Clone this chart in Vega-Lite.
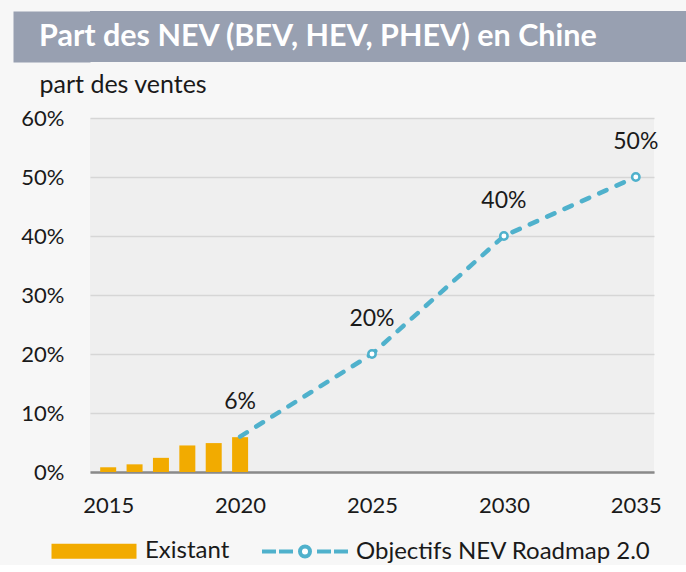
{
  "$schema": "https://vega.github.io/schema/vega-lite/v6.json",
  "background": "#f7f7f7",
  "padding": {"left": 13, "top": 11, "right": 0, "bottom": 0},
  "spacing": 10,
  "config": {
    "font": "Lato",
    "view": {"stroke": null},
    "axis": {
      "labelFont": "Lato",
      "labelFontSize": 22,
      "labelColor": "#1a1a1a",
      "titleFont": "Lato",
      "titleFontSize": 25,
      "titleFontWeight": "normal",
      "titleColor": "#1a1a1a"
    },
    "legend": {
      "labelFont": "Lato",
      "labelFontSize": 24,
      "labelColor": "#1a1a1a",
      "labelLimit": 400
    }
  },
  "vconcat": [
    {
      "width": 596,
      "height": 51,
      "view": {"fill": "#98a0b1", "stroke": null},
      "data": {"values": [{"t": "Part des NEV (BEV, HEV, PHEV) en Chine"}]},
      "layer": [
        {
          "mark": {"type": "rect", "color": "#98a0b1"},
          "encoding": {}
        },
        {
          "mark": {"type": "text", "align": "left", "baseline": "middle", "dx": -51, "color": "white", "font": "Lato", "fontSize": 30.5, "fontWeight": "bold"},
          "encoding": {
            "x": {"datum": 0, "type": "quantitative", "scale": {"domain": [0, 1]}, "axis": null},
            "y": {
              "datum": 0.5,
              "type": "quantitative",
              "scale": {"domain": [0, 1]},
              "axis": {
                "title": null,
                "labels": false,
                "ticks": false,
                "grid": false,
                "domain": true,
                "domainColor": "#98a0b1",
                "domainWidth": 77,
                "offset": 38.5
              }
            },
            "text": {"field": "t"}
          }
        }
      ]
    },
    {
      "width": 564,
      "height": 354,
      "view": {"fill": "#efefef", "stroke": null},
      "data": {
        "values": [
          {"year": 2015, "v": 0.008, "serie": "Existant"},
          {"year": 2016, "v": 0.013, "serie": "Existant"},
          {"year": 2017, "v": 0.024, "serie": "Existant"},
          {"year": 2018, "v": 0.045, "serie": "Existant"},
          {"year": 2019, "v": 0.049, "serie": "Existant"},
          {"year": 2020, "v": 0.059, "serie": "Existant"},
          {"year": 2020, "v": 0.06, "serie": "Objectifs NEV Roadmap 2.0", "label": "6%"},
          {"year": 2025, "v": 0.2, "serie": "Objectifs NEV Roadmap 2.0", "label": "20%"},
          {"year": 2030, "v": 0.4, "serie": "Objectifs NEV Roadmap 2.0", "label": "40%"},
          {"year": 2035, "v": 0.5, "serie": "Objectifs NEV Roadmap 2.0", "label": "50%"}
        ]
      },
      "encoding": {
        "x": {
          "field": "year",
          "type": "quantitative",
          "scale": {"domain": [2014.5, 2035.5], "nice": false, "zero": false},
          "axis": {
            "values": [2015, 2020, 2025, 2030, 2035],
            "format": "d",
            "title": null,
            "grid": false,
            "ticks": false,
            "labelPadding": 23,
            "domainColor": "#8a8a8a",
            "domainWidth": 2.5
          }
        },
        "y": {
          "field": "v",
          "type": "quantitative",
          "scale": {"domain": [0, 0.6], "nice": false},
          "axis": {
            "values": [0, 0.1, 0.2, 0.3, 0.4, 0.5, 0.6],
            "format": ".0%",
            "grid": true,
            "gridColor": "#d6d6d6",
            "gridWidth": 1.5,
            "domain": false,
            "ticks": false,
            "labelPadding": 26,
            "minExtent": 77,
            "title": "part des ventes",
            "titleAngle": 0,
            "titleAlign": "left",
            "titleBaseline": "alphabetic",
            "titleX": -51,
            "titleY": -26
          }
        }
      },
      "layer": [
        {
          "transform": [{"filter": "datum.serie === 'Existant'"}],
          "mark": {"type": "bar", "size": 16, "color": "#f2ab00"}
        },
        {
          "transform": [{"filter": "datum.serie !== 'Existant'"}],
          "mark": {"type": "line", "color": "#4fb1cc", "strokeWidth": 4.5, "strokeDash": [8, 11], "strokeCap": "round"}
        },
        {
          "transform": [{"filter": "datum.serie !== 'Existant' && datum.year > 2020"}],
          "mark": {"type": "point", "filled": true, "fill": "white", "stroke": "#4fb1cc", "strokeWidth": 2.5, "size": 55, "opacity": 1}
        },
        {
          "transform": [{"filter": "datum.serie !== 'Existant'"}],
          "mark": {"type": "text", "dy": -28, "baseline": "alphabetic", "font": "Lato", "fontSize": 23, "color": "#1a1a1a"},
          "encoding": {"text": {"field": "label"}}
        },
        {
          "mark": {"type": "point", "opacity": 0},
          "encoding": {
            "shape": {
              "field": "serie",
              "type": "nominal",
              "scale": {
                "domain": ["Existant", "Objectifs NEV Roadmap 2.0"],
                "range": [
                  "M-4.05,-0.55L4.05,-0.55L4.05,0.55L-4.05,0.55Z",
                  "M-4.3,0L-2.9,0M-2.6,0L-1.2,0M1.2,0L2.6,0M2.9,0L4.3,0M0.5,0A0.5,0.5 0 1,1 -0.5,0A0.5,0.5 0 1,1 0.5,0Z"
                ]
              },
              "legend": {
                "title": null,
                "orient": "none",
                "direction": "horizontal",
                "legendX": -8,
                "legendY": 528,
                "padding": 0,
                "symbolSize": 400,
                "symbolStrokeWidth": 4,
                "symbolOpacity": 1,
                "labelOffset": 39,
                "columnPadding": 24
              }
            },
            "fill": {
              "field": "serie",
              "type": "nominal",
              "scale": {"domain": ["Existant", "Objectifs NEV Roadmap 2.0"], "range": ["#f2ab00", "#ffffff"]},
              "legend": null
            },
            "stroke": {
              "field": "serie",
              "type": "nominal",
              "scale": {"domain": ["Existant", "Objectifs NEV Roadmap 2.0"], "range": ["#f2ab00", "#4fb1cc"]},
              "legend": null
            }
          }
        }
      ]
    }
  ]
}
